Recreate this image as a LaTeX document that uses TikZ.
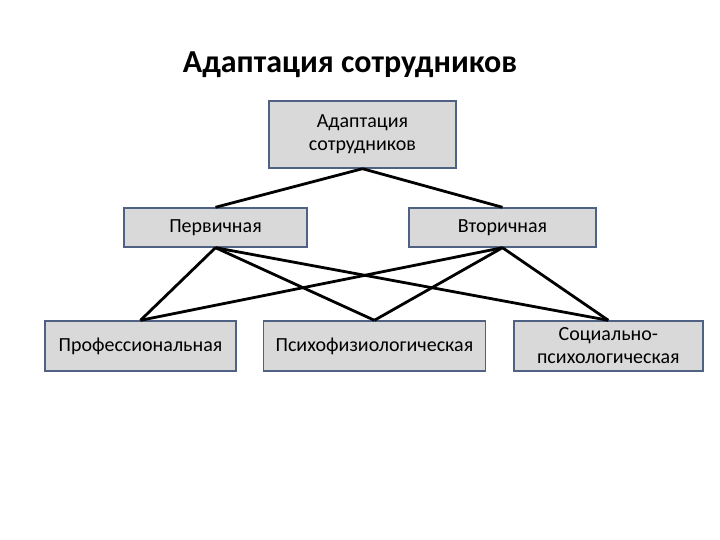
\documentclass[tikz,border=0pt]{standalone}
\usepackage{fontspec}
\setmainfont{Carlito}
\usepackage{xcolor}
\usetikzlibrary{positioning}
\definecolor{boxgray}{HTML}{D9D9D9}
\definecolor{frame}{HTML}{4F6283}
\tikzset{
  box/.style ={draw=frame, line width=1.4pt, fill=boxgray, align=center, font=\fontsize{20}{23}\selectfont, inner sep=2pt},
  lnk/.style ={line width=2.8pt, black},
  ttl/.style ={font=\bfseries\fontsize{32}{36}\selectfont},
}

\begin{document}
\begin{tikzpicture}[x=1pt,y=-1pt]
  \useasboundingbox (0,0) rectangle (720,540);
  \node[ttl] (title) at (350,65) {Адаптация сотрудников};
  \node[box, minimum width=187pt, minimum height=67pt] (adapt) at (362.5,134.5) {Адаптация\\сотрудников};
  \node[box, minimum width=183pt, minimum height=39pt] (prim) at (215.5,227.5) {Первичная};
  \node[box, minimum width=187pt, minimum height=39pt] (sec) at (502.5,227.5) {Вторичная};
  \node[box, minimum width=191pt, minimum height=50pt] (prof) at (140.5,346) {Профессиональная};
  \node[box, minimum width=222pt, minimum height=50pt, right=26pt of prof] (psy) {Психофизиологическая};
  \node[box, minimum width=189pt, minimum height=50pt, right=27pt of psy] (soc) {Социально-\\психологическая};
  \draw[lnk] (adapt.south)--(prim.north);
  \draw[lnk] (adapt.south)--(sec.north);
  \foreach \up in {prim,sec}
    \foreach \dn in {prof,psy,soc}
      \draw[lnk] (\up.south)--(\dn.north);
\end{tikzpicture}
\end{document}
